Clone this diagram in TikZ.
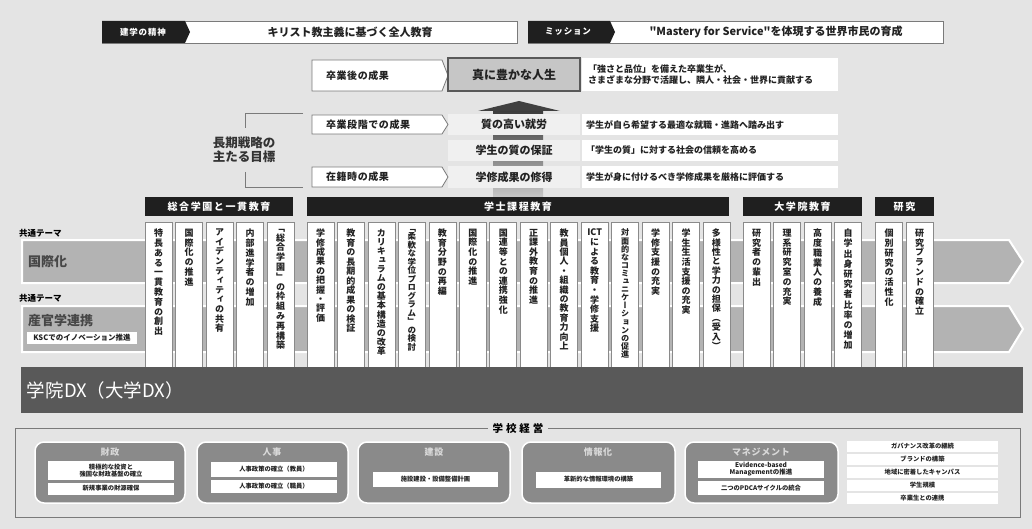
\documentclass[tikz,border=0pt]{standalone}
\usepackage{fontspec}
\setmainfont{Noto Sans CJK JP}
\newfontfamily\tatefont{Noto Sans CJK JP}[RawFeature=+vert]
\newfontfamily\qfont{Noto Sans CJK JP}[Ligatures=TeXOff]
\definecolor{bgc}{HTML}{E4E4E4}
\definecolor{darkc}{HTML}{1F1F1F}
\definecolor{bandc}{HTML}{B3B3B3}
\definecolor{dxc}{HTML}{595959}
\definecolor{grpc}{HTML}{8A8A8A}
\definecolor{linec}{HTML}{7A7A7A}
\definecolor{lightc}{HTML}{F0F0F0}
\definecolor{truec}{HTML}{C6C6C6}
\definecolor{colline}{HTML}{8A8A8A}
\definecolor{txtc}{HTML}{222222}
\makeatletter
\newcommand\tatestack[3]{\vbox{\tatefont\bfseries\fontsize{#1}{#2}\selectfont\baselineskip=#2pt\lineskiplimit=-50pt\lineskip=0pt\@tfor\tate@c:=#3\do{\hbox to 0pt{\hss\tate@c\hss}}}}
\makeatother
\tikzset{
  rect/.style 2 args={anchor=north west, minimum width=#1, minimum height=#2},
  every node/.style={inner sep=0pt, outer sep=0pt, font=\bfseries, text=txtc},
  colbox/.style={anchor=north west, minimum width=27pt, minimum height=150pt, fill=white, draw=colline, line width=.6pt},
  hdr/.style={fill=darkc, text=white, font=\bfseries\fontsize{10}{11}\selectfont\addfontfeature{LetterSpace=16}},
  pentbox/.style={fill=white, draw=linec, line width=.8pt},
  band/.style={fill=bandc, draw=white, line width=2pt},
  grp/.style={fill=grpc, draw=white, line width=1.5pt, rounded corners=9pt},
  grptitle/.style={text=white!85!black, font=\bfseries\fontsize{9}{10}\selectfont\addfontfeature{LetterSpace=8}},
  inbox/.style={fill=white, align=center, font=\bfseries\fontsize{6.3}{7}\selectfont},
}
\newcommand\colx[5]{%
  \node[colbox] (#1) at (#2,222) {};
  \node[anchor=north, yshift=-7pt] (#1t) at (#1.north) {\tatestack{#3}{#4}{#5}};
}
\newcommand\pent[5]{%
  \path[pentbox] (312,#1) -- (442,#1) -- (448,#3) -- (442,#2) -- (312,#2) -- cycle;
  \node[anchor=west, font=\bfseries\fontsize{10}{11}\selectfont\addfontfeature{LetterSpace=6}] (#4) at (326,#3) {#5};
}
\begin{document}
\begin{tikzpicture}[x=1pt,y=-1pt]
\useasboundingbox (0,0) rectangle (1032,529);
\fill[bgc] (0,0) rectangle (1032,529);

% ---- top bars
\node[rect={415pt}{22pt}, fill=white, draw=linec, line width=.7pt] (b1) at (102,21) {};
\fill[darkc] (102,21) -- (185,21) -- (190,32) -- (185,43) -- (102,43) -- cycle;
\node[text=white, font=\bfseries\fontsize{8.5}{9}\selectfont\addfontfeature{LetterSpace=10}] (spirit) at (143,32) {建学の精神};
\node[font=\bfseries\fontsize{11}{12}\selectfont] (spirittxt) at (350,32) {キリスト教主義に基づく全人教育};
\node[rect={415pt}{22pt}, fill=white, draw=linec, line width=.7pt] (b2) at (528,21) {};
\fill[darkc] (528,21) -- (610,21) -- (615,32) -- (610,43) -- (528,43) -- cycle;
\node[text=white, font=\bfseries\fontsize{8.5}{9}\selectfont\addfontfeature{LetterSpace=10}] (mission) at (568,32) {ミッション};
\node[font=\qfont\bfseries\fontsize{11}{12}\selectfont] (missiontxt) at (776,32) {"Mastery for Service"を体現する世界市民の育成};

% ---- outcomes
\pent{60}{91}{75.5}{p1}{卒業後の成果}
\node[rect={132pt}{33pt}, fill=truec, draw=black!65, line width=1.6pt, font=\bfseries\fontsize{12}{13}\selectfont] (life) at (448,58) {真に豊かな人生};
\node[rect={256pt}{33pt}, fill=white] (d0) at (582,58) {};
\node[anchor=west, align=left, font=\bfseries\fontsize{9}{11}\selectfont] (d0t) at (588,74.5) {「強さと品位」を備えた卒業生が、\\さまざまな分野で活躍し、隣人・社会・世界に貢献する};

% arrow
\shade[top color=black!78, bottom color=black!22] (493,108) rectangle (543,197);
\fill[black!75] (478,111) -- (519,101) -- (560,111) -- cycle;

\node[rect={132pt}{21pt}, fill=lightc, font=\bfseries\fontsize{11}{12}\selectfont] (r1) at (448,114) {質の高い就労};
\node[rect={132pt}{21pt}, fill=lightc, font=\bfseries\fontsize{11}{12}\selectfont] (r2) at (448,140) {学生の質の保証};
\node[rect={132pt}{22pt}, fill=lightc, font=\bfseries\fontsize{11}{12}\selectfont] (r3) at (448,166) {学修成果の修得};
\node[rect={256pt}{21pt}, fill=white] (d1) at (582,114) {};
\node[rect={256pt}{21pt}, fill=white] (d2) at (582,140) {};
\node[rect={256pt}{22pt}, fill=white] (d3) at (582,166) {};
\node[anchor=west, font=\bfseries\fontsize{9}{10}\selectfont] (d1t) at (586,124.5) {学生が自ら希望する最適な就職・進路へ踏み出す};
\node[anchor=west, font=\bfseries\fontsize{9}{10}\selectfont] (d2t) at (586,150.5) {「学生の質」に対する社会の信頼を高める};
\node[anchor=west, font=\bfseries\fontsize{9}{10}\selectfont] (d3t) at (586,177) {学生が身に付けるべき学修成果を厳格に評価する};
\pent{115}{134}{124.5}{p2}{卒業段階での成果}
\pent{167}{187}{177}{p3}{在籍時の成果}

% bracket
\node[align=center, font=\bfseries\fontsize{12.5}{14.5}\selectfont, text=black!80] (goal) at (244,150) {長期戦略の\\主たる目標};
\coordinate (bt) at (303,113);
\coordinate (bb) at (303,187);
\draw[linec, line width=.8pt] (bt) -- (245,113) -- (245,128);
\draw[linec, line width=.8pt] (245,172) -- (245,187) -- (bb);

% ---- bands
\path[band] (22,240) -- (1009,240) -- (1023,261.5) -- (1009,283) -- (22,283) -- cycle;
\path[band] (22,306) -- (1009,306) -- (1023,329) -- (1009,352) -- (22,352) -- cycle;
\node[anchor=west, font=\bfseries\fontsize{8.5}{9}\selectfont, text=black] (th1) at (19,233) {共通テーマ};
\node[anchor=west, font=\bfseries\fontsize{8.5}{9}\selectfont, text=black] (th2) at (19,298) {共通テーマ};
\node[anchor=west, font=\bfseries\fontsize{13}{14}\selectfont, text=black!72] (intl) at (28,262) {国際化};
\node[anchor=west, font=\bfseries\fontsize{13}{14}\selectfont, text=black!72] (ind) at (28,321) {産官学連携};
\node[rect={110pt}{12pt}, fill=white, font=\bfseries\fontsize{7.5}{8}\selectfont] (ksc) at (27,332) {KSCでのイノベーション推進};

% ---- section headers
\node[hdr, rect={148pt}{19pt}] (h1) at (145,197) {総合学園と一貫教育};
\node[hdr, rect={422pt}{19pt}] (h2) at (307,197) {学士課程教育};
\node[hdr, rect={119pt}{19pt}] (h3) at (743,197) {大学院教育};
\node[hdr, rect={59pt}{19pt}] (h4) at (875,197) {研究};

% ---- columns
\colx{l1}{145}{9}{9.8}{特長ある一貫教育の創出}
\colx{l2}{175.5}{9}{9.8}{国際化の推進}
\colx{l3}{206}{9}{9.6}{アイデンティティの共有}
\colx{l4}{236.5}{9}{9.8}{内部進学者の増加}
\colx{l5}{267}{9}{9.8}{「総合学園」の枠組み再構築}
\colx{m1}{307}{9}{9.4}{学修成果の把握・評価}
\colx{m2}{337.46}{9}{9.5}{教育の長期的成果の検証}
\colx{m3}{367.92}{9}{9.1}{カリキュラムの基本構造の改革}
\colx{m4}{398.38}{8.5}{8.5}{「柔軟な学位プログラム」の検討}
\colx{m5}{428.84}{9}{9.6}{教育分野の再編}
\colx{m6}{459.3}{9}{9.6}{国際化の推進}
\colx{m7}{489.76}{9}{9.6}{国連等との連携強化}
\colx{m8}{520.22}{9}{9.6}{正課外教育の推進}
\colx{m9}{550.68}{9}{9.4}{教員個人・組織の教育力向上}
\colx{m10}{581.14}{9}{9.6}{{ICT}による教育・学修支援}
\colx{m11}{611.6}{8.1}{8.1}{対面的なコミュニケーションの促進}
\colx{m12}{642.06}{9}{9.6}{学修支援の充実}
\colx{m13}{672.52}{9}{9.6}{学生生活支援の充実}
\colx{m14}{702.98}{9}{9.4}{多様性と学力の担保（受入）}
\colx{g1}{743}{9}{9.8}{研究者の輩出}
\colx{g2}{773.5}{9}{9.8}{理系研究室の充実}
\colx{g3}{804}{9}{9.8}{高度職業人の養成}
\colx{g4}{834.5}{9}{10.2}{自学出身研究者比率の増加}
\colx{s1}{875.5}{9}{9.8}{個別研究の活性化}
\colx{s2}{906}{9}{9.8}{研究ブランドの確立}

% ---- DX bar
\node[rect={1002pt}{46pt}, fill=dxc] (dx) at (21,367) {};
\node[anchor=west, text=white, font=\mdseries\fontsize{18.5}{20}\selectfont] (dxt) at (27,390) {学院DX（大学DX）};

% ---- school management
\draw[linec, line width=.8pt] (15,428) rectangle (1020,517);
\node[fill=bgc, inner xsep=5pt, inner ysep=2pt, font=\bfseries\fontsize{10.5}{11}\selectfont\addfontfeature{LetterSpace=28}, text=black] (mgmt) at (518,428) {学校経営};

\node[grp, rect={150pt}{61pt}] (gfin) at (35,442) {};
\node[grptitle] (gfint) at (110,452) {財政};
\node[inbox, rect={126pt}{19pt}] (fin1) at (48,461) {積極的な投資と\\強固な財政基盤の確立};
\node[inbox, rect={126pt}{12pt}] (fin2) at (48,482.5) {新規事業の財源確保};

\node[grp, rect={151pt}{61pt}] (ghr) at (197,442) {};
\node[grptitle] (ghrt) at (272,452) {人事};
\node[inbox, rect={126pt}{15pt}] (hr1) at (211,462) {人事政策の確立（教員）};
\node[inbox, rect={126pt}{13pt}] (hr2) at (211,480) {人事政策の確立（職員）};

\node[grp, rect={152pt}{61pt}] (gcon) at (358,442) {};
\node[grptitle] (gcont) at (434,452) {建設};
\node[inbox, rect={125pt}{15pt}] (con1) at (373,472) {施設建設・設備整備計画};

\node[grp, rect={153pt}{61pt}] (git) at (522,442) {};
\node[grptitle] (gitt) at (598,452) {情報化};
\node[inbox, rect={125pt}{16pt}] (it1) at (536,471.5) {革新的な情報環境の構築};

\node[grp, rect={153pt}{61pt}] (gman) at (685,442) {};
\node[grptitle] (gmant) at (761,452) {マネジメント};
\node[inbox, rect={126pt}{17pt}, font=\bfseries\fontsize{6.5}{7}\selectfont] (man1) at (698,461) {Evidence-based\\Managementの推進};
\node[inbox, rect={126pt}{14pt}] (man2) at (698,481) {二つのPDCAサイクルの統合};

\node[inbox, rect={151pt}{11pt}] (o1) at (847,441) {ガバナンス改革の継続};
\node[inbox, rect={151pt}{11pt}] (o2) at (847,454) {ブランドの構築};
\node[inbox, rect={151pt}{11pt}] (o3) at (847,467) {地域に密着したキャンパス};
\node[inbox, rect={151pt}{11pt}] (o4) at (847,480) {学生規模};
\node[inbox, rect={151pt}{11pt}] (o5) at (847,493) {卒業生との連携};
\end{tikzpicture}
\end{document}
